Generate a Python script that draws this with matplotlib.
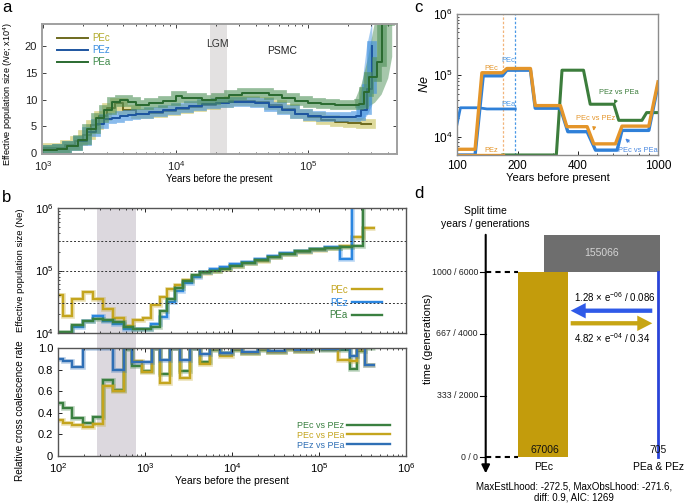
import numpy as np
import matplotlib
matplotlib.use("Agg")
import matplotlib.pyplot as plt
from matplotlib.patches import Rectangle
from matplotlib.ticker import FixedLocator, FixedFormatter, NullFormatter

plt.rcParams["font.family"] = ["Liberation Sans", "DejaVu Sans"]
plt.rcParams["mathtext.fontset"] = "custom"
plt.rcParams["mathtext.rm"] = "Liberation Sans"
plt.rcParams["mathtext.it"] = "Liberation Sans:italic"
plt.rcParams["mathtext.bf"] = "Liberation Sans:bold"
plt.rcParams["xtick.direction"] = "in"
plt.rcParams["ytick.direction"] = "in"

W, H = 685, 503

# ---------------- panel a: PSMC (log10 years, Ne in 1e4) ----------------
a_pec_t = [3.0, 3.08, 3.16, 3.24, 3.30, 3.36, 3.42, 3.48, 3.54, 3.60, 3.70, 3.80, 3.90, 4.00,
           4.10, 4.20, 4.30, 4.40, 4.50, 4.60, 4.70, 4.80, 4.90, 5.00, 5.10, 5.20, 5.30, 5.40, 5.47]
a_pec_ne = [1.0, 1.0, 1.6, 2.4, 3.5, 5.2, 7.0, 8.5, 9.3, 8.0, 7.3, 7.5, 7.8, 8.2,
            8.6, 9.0, 9.4, 9.7, 9.8, 9.6, 9.0, 8.2, 7.4, 6.7, 6.2, 5.8, 5.6, 5.5, 5.5]
a_pez_t = [3.0, 3.1, 3.18, 3.26, 3.33, 3.40, 3.46, 3.52, 3.58, 3.64, 3.70, 3.80, 3.90, 4.00, 4.10,
           4.20, 4.30, 4.40, 4.50, 4.60, 4.70, 4.80, 4.90, 5.00, 5.10, 5.20, 5.30, 5.36, 5.40, 5.44, 5.48]
a_pez_ne = [0.6, 0.8, 1.3, 2.4, 4.0, 5.5, 6.3, 6.6, 6.9, 7.1, 7.3, 7.6, 8.0, 8.4, 8.8,
            9.1, 9.4, 9.6, 9.6, 9.3, 8.7, 8.0, 7.4, 7.0, 6.8, 6.7, 6.8, 6.9, 8.0, 12.0, 20.0]
a_pea_t = [3.0, 3.1, 3.18, 3.26, 3.33, 3.40, 3.46, 3.52, 3.58, 3.64, 3.70, 3.80, 3.90, 4.00, 4.05,
           4.10, 4.20, 4.30, 4.40, 4.50, 4.60, 4.70, 4.80, 4.90, 5.00, 5.10, 5.20, 5.30, 5.38,
           5.42, 5.46, 5.52, 5.56, 5.62]
a_pea_ne = [0.6, 0.8, 1.3, 2.5, 4.5, 6.5, 8.0, 9.5, 10.0, 9.5, 9.0, 9.3, 9.8, 10.6, 10.3,
            10.2, 10.0, 10.3, 10.8, 11.2, 11.2, 10.8, 10.2, 9.7, 9.3, 9.1, 9.0, 9.0, 9.1,
            11.4, 14.2, 17.0, 24.5, 24.5]
# bootstrap spread in the old tail
a_pea_tail_t = [5.35, 5.40, 5.45, 5.50, 5.55, 5.60, 5.63]
a_pea_tail_lo = [8.5, 8.5, 8.7, 9.5, 11.0, 14.0, 18.0]
a_pea_tail_hi = [10.0, 13.0, 18.0, 24.5, 24.5, 24.5, 24.5]
a_pez_tail_t = [5.36, 5.40, 5.44, 5.48]
a_pez_tail_lo = [6.2, 6.3, 7.0, 9.0]
a_pez_tail_hi = [7.5, 12.0, 20.0, 24.5]
lgm = (18000, 24500)

# ---------------- panel b: MSMC (log10 years) ----------------
b_edges = [2.000, 2.057, 2.161, 2.287, 2.402, 2.517, 2.632, 2.759, 2.862, 2.977, 3.069, 3.172,
           3.253, 3.345, 3.437, 3.540, 3.632, 3.747, 3.862, 3.977, 4.115, 4.264, 4.414, 4.552,
           4.724, 4.897, 5.069, 5.241, 5.379, 5.506, 5.644]
b_pec = [4.61, 4.27, 4.54, 4.65, 4.54, 4.38, 4.24, 4.12, 4.21, 4.24, 4.45, 4.58, 4.70, 4.77,
         4.85, 4.92, 4.96, 5.00, 5.03, 5.07, 5.12, 5.16, 5.21, 5.26, 5.30, 5.33, 5.36, 5.39, 5.54, 5.68]
b_pez = [3.90, 3.90, 4.10, 4.20, 4.27, 4.20, 4.15, 4.07, 4.07, 4.07, 4.15, 4.25, 4.50, 4.68,
         4.80, 4.90, 4.97, 5.02, 5.06, 5.10, 5.14, 5.19, 5.24, 5.28, 5.32, 5.35, 5.37, 5.18, 6.5, 6.5]
b_pea = [4.02, 4.02, 4.13, 4.20, 4.22, 4.21, 4.17, 4.10, 4.07, 4.07, 4.10, 4.35, 4.55, 4.72,
         4.84, 4.93, 4.97, 5.00, 5.03, 5.07, 5.12, 5.17, 5.22, 5.27, 5.31, 5.34, 5.36, 5.38, 5.39, 6.5]

rcc_edges = [2.000, 2.057, 2.161, 2.287, 2.402, 2.517, 2.632, 2.759, 2.851, 2.966, 3.080, 3.172,
             3.287, 3.402, 3.517, 3.632, 3.747, 3.862, 4.000, 4.115, 4.299, 4.414, 4.609, 4.724,
             4.920, 5.034, 5.218, 5.356, 5.437, 5.529, 5.644]
rcc_pec_pez = [0.49, 0.44, 0.35, 0.31, 0.36, 0.70, 0.61, 0.99, 0.83, 0.79, 1.0, 0.76, 1.0, 0.79, 1.0,
               0.87, 0.98, 0.95, 0.98, 0.95, 0.98, 0.96, 0.99, 0.97, 1.0, 0.98, 0.98, 0.81, 0.97, 1.0]
rcc_pec_pea = [0.33, 0.31, 0.29, 0.27, 0.30, 0.65, 0.60, 1.0, 0.88, 0.78, 1.0, 0.68, 1.0, 0.72, 1.0,
               0.85, 0.99, 0.93, 0.99, 0.95, 0.99, 0.96, 0.99, 0.97, 1.0, 0.99, 0.89, 0.88, 0.98, 0.84]
rcc_pez_pea = [0.90, 0.88, 0.82, 1.0, 1.0, 1.0, 0.80, 1.0, 0.87, 0.87, 1.0, 0.89, 1.0, 0.89, 1.0,
               0.94, 1.0, 0.95, 1.0, 0.96, 1.0, 0.97, 1.0, 0.98, 1.0, 0.99, 1.0, 0.93, 1.0, 0.84]
b_band = (280, 790)

# ---------------- panel c: recent Ne (years, Ne) ----------------
c_pecpez_t = [100, 123, 133, 168, 177, 232, 245, 327, 352, 444, 479, 614, 662, 900, 1000]
c_pecpez_ne = [6200, 6200, 110000, 110000, 129000, 129000, 32000, 32000, 14500, 14500,
               7600, 7600, 14800, 14800, 78000]
c_pecpea_t = [100, 123, 135, 168, 177, 232, 245, 327, 356, 444, 489, 626, 662, 900, 1000]
c_pecpea_ne = [5000, 5000, 98000, 98000, 121000, 121000, 29000, 29000, 12000, 12000,
               6000, 6000, 12600, 12600, 69000]
c_pea_t = [100, 104, 128, 141, 195]
c_pea_ne = [15800, 29500, 29500, 28200, 28200]
c_pez_t = [100, 169]
c_pez_ne = [5000, 5000]
c_pezpea_t = [169, 312, 333, 426, 460, 603, 638, 832, 878, 1000]
c_pezpea_ne = [5000, 5000, 121000, 121000, 33700, 33700, 18400, 18400, 24600, 24600]
c_split = (169, 195)

# ---------------- panel d: demographic model ----------------
d_split_years = 1000
d_split_gen = 6000
d_gen_ticks = [0, 2000, 4000, 6000]
d_tick_labels = ["0 / 0", "333 / 2000", "667 / 4000", "1000 / 6000"]
d_ne_anc = 155066
d_ne_pec = 67006
d_ne_peaz = 705
d_mig_to_pec = "1.28 × e$^{-06}$ / 0.086"
d_mig_to_peaz = "4.82 × e$^{-04}$ / 0.34"
d_stats = "MaxEstLhood: -272.5, MaxObsLhood: -271.6,\ndiff: 0.9, AIC: 1269"

fig = plt.figure(figsize=(6.85, 5.03), dpi=100)


def box(x0, y0, x1, y1):
    return [x0 / W, 1 - y1 / H, (x1 - x0) / W, (y1 - y0) / H]


def style_spines(ax, color, lw=1.0):
    for s in ax.spines.values():
        s.set_color(color)
        s.set_linewidth(lw)


# ===== a =====
ax = fig.add_axes(box(42, 24, 397, 154))
ax.axvspan(*lgm, color="#e3e1e1", lw=0)
series_a = [
    (a_pec_t, a_pec_ne, "#c8c25a", "#6e6a1e", "PEc", "#b3ab2c"),
    (a_pez_t, a_pez_ne, "#3d8fe0", "#1d55a0", "PEz", "#3b8ee0"),
    (a_pea_t, a_pea_ne, "#4f9159", "#2a6a30", "PEa", "#3f8a4a"),
]
ax.fill_between(10 ** np.array(a_pez_tail_t), a_pez_tail_lo, a_pez_tail_hi, color="#3d8fe0", alpha=0.45, lw=0)
ax.fill_between(10 ** np.array(a_pea_tail_t), a_pea_tail_lo, a_pea_tail_hi, color="#4f9159", alpha=0.5, lw=0)
for t, ne, band, line, lab, tcol in series_a:
    x = 10 ** np.array(t)
    ax.step(x, ne, where="post", color=band, lw=7, alpha=0.6, solid_joinstyle="miter")
    ax.step(x, ne, where="post", color=line, lw=1.4, label=lab)
ax.set_xscale("log")
ax.set_xlim(10 ** 2.99, 10 ** 5.67)
ax.set_ylim(-0.1, 24)
ax.set_yticks([0, 5, 10, 15, 20])
ax.tick_params(labelsize=8, top=True, right=True, length=3, width=0.6, colors="#222222")
ax.tick_params(which="minor", top=True, length=1.5, width=0.5)
ax.set_xlabel("Years before the present", fontsize=7, labelpad=1)
ax.set_ylabel("Effective population size ($\\it{Ne}$; x10$^4$)", fontsize=6.6, labelpad=3)
ax.yaxis.set_label_coords(-0.075, 0.46)
style_spines(ax, "#a0a0a0", 1.4)
ax.text(20700, 20.3, "LGM", fontsize=7.5, ha="center", va="center", color="#333333")
ax.text(63000, 19.0, "PSMC", fontsize=7.5, ha="center", va="center", color="#222222")
leg = ax.legend(loc="upper left", bbox_to_anchor=(0.042, 0.93), frameon=False, fontsize=7,
                handlelength=3.2, handletextpad=0.4, labelspacing=0.2, borderaxespad=0, borderpad=0)
for txt, s in zip(leg.get_texts(), series_a):
    txt.set_color(s[5])

# ===== b top =====
axb = fig.add_axes(box(58, 208, 406, 333))
axb.axvspan(*b_band, ymin=-0.13, ymax=1, color="#dcd8de", lw=0, clip_on=False, zorder=0)
for v in [3e4, 1e5, 3e5]:
    axb.axhline(v, color="#333333", lw=0.7, ls=(0, (2, 2)))
edges_b = 10 ** np.array(b_edges)
for vals, col, lab in [(b_pec, "#c4a51e", "PEc"), (b_pez, "#2b86e0", "PEz"), (b_pea, "#3a8040", "PEa")]:
    axb.stairs(10 ** np.array(vals), edges_b, baseline=None, color=col, lw=3.4, alpha=0.3)
    axb.stairs(10 ** np.array(vals), edges_b, baseline=None, color=col, lw=1.7, label=lab)
axb.set_xscale("log")
axb.set_yscale("log")
axb.set_xlim(100, 1e6)
axb.set_ylim(1e4, 1e6)
axb.tick_params(labelbottom=False, labelsize=8, top=True, length=3, width=0.6)
axb.tick_params(which="minor", top=True, length=1.5, width=0.5)
axb.set_ylabel("Effective population size (Ne)", fontsize=6.8, labelpad=2)
axb.yaxis.set_label_coords(-0.095, 0.5)
style_spines(axb, "#555555", 1.0)
h, l = axb.get_legend_handles_labels()
legb = axb.legend(h, l, loc="lower right", bbox_to_anchor=(0.931, 0.10), frameon=False, fontsize=7,
                  markerfirst=False, handlelength=3.1, handletextpad=0.4, labelspacing=0.3,
                  borderaxespad=0, borderpad=0)
for txt, c in zip(legb.get_texts(), ["#c4a51e", "#2b86e0", "#3a8040"]):
    txt.set_color(c)

# ===== b bottom =====
axr = fig.add_axes(box(58, 348, 406, 456))
axr.axvspan(*b_band, color="#dcd8de", lw=0, zorder=0)
edges_r = 10 ** np.array(rcc_edges)
for vals, col, lab in [(rcc_pec_pez, "#3a8040", "PEc vs PEz"), (rcc_pec_pea, "#c4a51e", "PEc vs PEa"),
                       (rcc_pez_pea, "#2f6fb5", "PEz vs PEa")]:
    axr.stairs(vals, edges_r, baseline=None, color=col, lw=3.4, alpha=0.3)
    axr.stairs(vals, edges_r, baseline=None, color=col, lw=1.7, label=lab)
axr.set_xscale("log")
axr.set_xlim(100, 1e6)
axr.set_ylim(0, 1.0)
axr.set_yticks([0, 0.2, 0.4, 0.6, 0.8, 1.0])
axr.set_yticklabels(["0", "0.2", "0.4", "0.6", "0.8", "1.0"])
axr.tick_params(labelsize=8, top=True, length=3, width=0.6)
axr.tick_params(which="minor", top=True, length=1.5, width=0.5)
axr.set_xlabel("Years before the present", fontsize=7.5, labelpad=1)
axr.set_ylabel("Relative cross coalescence rate", fontsize=7.2, labelpad=4)
axr.yaxis.set_label_coords(-0.095, 0.42)
style_spines(axr, "#555555", 1.0)
h, l = axr.get_legend_handles_labels()
legr = axr.legend(h, l, loc="lower right", bbox_to_anchor=(0.955, 0.06), frameon=False, fontsize=6.5,
                  markerfirst=False, handlelength=4.8, handletextpad=0.3, labelspacing=0.1,
                  borderaxespad=0, borderpad=0)
for txt, c in zip(legr.get_texts(), ["#3a8040", "#c4a51e", "#2f6fb5"]):
    txt.set_color(c)

# ===== c =====
axc = fig.add_axes(box(457, 14, 658, 155))
axc.axvline(c_split[0], color="#f2b47a", lw=0.9, ls=(0, (2, 1.5)))
axc.axvline(c_split[1], color="#4a98e6", lw=0.9, ls=(0, (2, 1.5)))
axc.plot(c_pea_t, c_pea_ne, color="#2f80d8", lw=2.0)
axc.plot(c_pezpea_t, c_pezpea_ne, color="#3c7d3c", lw=2.2)
axc.plot(c_pecpea_t, c_pecpea_ne, color="#2f80d8", lw=2.4)
axc.plot(c_pecpez_t, c_pecpez_ne, color="#e4952a", lw=2.4)
axc.plot(c_pez_t, c_pez_ne, color="#e4952a", lw=2.4)
axc.set_xscale("log")
axc.set_yscale("log")
axc.set_xlim(100, 1000)
axc.set_ylim(5000, 1e6)
axc.xaxis.set_major_locator(FixedLocator([100, 200, 400, 1000]))
axc.xaxis.set_major_formatter(FixedFormatter(["100", "200", "400", "1000"]))
axc.xaxis.set_minor_formatter(NullFormatter())
axc.tick_params(labelsize=8.5, length=3, width=0.6)
axc.tick_params(which="minor", length=1.5, width=0.5)
axc.set_xlabel("Years before present", fontsize=8, labelpad=1)
axc.set_ylabel("$\\it{Ne}$", fontsize=9, labelpad=1)
style_spines(axc, "#8c8c8c", 1.0)
fs_c = 5.4
axc.text(148, 1.28e5, "PEc", color="#e4952a", fontsize=fs_c, ha="center", va="center")
axc.text(180, 1.76e5, "PEc", color="#4a98e6", fontsize=fs_c, ha="center", va="center")
axc.text(181, 3.37e4, "PEa", color="#4a98e6", fontsize=fs_c, ha="center", va="center")
axc.text(148, 6000, "PEz", color="#e4952a", fontsize=fs_c, ha="center", va="center")
axc.annotate("PEz vs PEa", xy=(606, 3.37e4), xytext=(640, 5.2e4), color="#3c7d3c", fontsize=fs_c,
             ha="center", va="center", arrowprops=dict(arrowstyle="-|>", color="#3c7d3c", lw=0.8,
                                                       mutation_scale=5, shrinkA=2, shrinkB=0))
axc.annotate("PEc vs PEz", xy=(478, 1.24e4), xytext=(488, 1.96e4), color="#e4952a", fontsize=fs_c,
             ha="center", va="center", arrowprops=dict(arrowstyle="-|>", color="#e4952a", lw=0.8,
                                                       mutation_scale=5, shrinkA=2, shrinkB=0))
axc.annotate("PEc vs PEa", xy=(688, 9300), xytext=(795, 6000), color="#4a88e0", fontsize=fs_c,
             ha="center", va="center", arrowprops=dict(arrowstyle="-|>", color="#4a88e0", lw=0.8,
                                                       mutation_scale=5, shrinkA=2, shrinkB=0))

# ===== d =====
axd = fig.add_axes(box(420, 200, 685, 503))
axd.axis("off")
px_ne = 1345.0           # Ne units per pixel (box widths scale with Ne)
px_gen = 2000 / 61.7     # generations per pixel
axd.set_xlim(-(518.3 - 420) * px_ne, (685 - 518.3) * px_ne)
axd.set_ylim(-(503 - 457.3) * px_gen, (457.3 - 200) * px_gen)
anc_h = 37.4 * px_gen
x_right = d_ne_pec + 123000
axd.add_patch(Rectangle((x_right - d_ne_anc, d_split_gen), d_ne_anc, anc_h, color="#6e6e6e", lw=0))
axd.add_patch(Rectangle((0, 0), d_ne_pec, d_split_gen, color="#c39c0c", lw=0))
x_peaz = x_right - 1.3 * px_ne
axd.plot([x_peaz, x_peaz], [0, d_split_gen], color="#2a44d8", lw=2)
axd.text(x_right - d_ne_anc / 2, d_split_gen + anc_h / 2, str(d_ne_anc), color="#d4d4d4",
         fontsize=7.5, ha="center", va="center")
axd.text(d_ne_pec / 2 + 2500, 60, str(d_ne_pec), fontsize=7.5, ha="center", va="bottom", color="#111111")
axd.text(x_peaz, 60, str(d_ne_peaz), fontsize=7.5, ha="center", va="bottom", color="#111111")
axd.text(d_ne_pec / 2, -324, "PEc", fontsize=7.5, ha="center", va="center")
axd.text(x_peaz, -324, "PEa & PEz", fontsize=7.5, ha="center", va="center")

x_axis = -32.6 * px_ne
axd.annotate("", xy=(x_axis, -519), xytext=(x_axis, anc_h + d_split_gen),
             arrowprops=dict(arrowstyle="-|>", color="black", lw=1.5, mutation_scale=12,
                             shrinkA=0, shrinkB=0))
for g, lab in zip(d_gen_ticks, d_tick_labels):
    axd.plot([x_axis - 5.7 * px_ne, x_axis], [g, g], color="black", lw=0.8)
    axd.text(x_axis - 7.7 * px_ne, g, lab, fontsize=6.3, ha="right", va="center", color="#222222")
for g in [0, d_split_gen]:
    axd.plot([x_axis, 0], [g, g], color="black", lw=1.5, ls=(0, (2.5, 2)))
axd.text(-121450, 3835, "time (generations)", rotation=90, fontsize=8, ha="center", va="center")
axd.text(x_axis, 7984, "Split time", fontsize=7.5, ha="center", va="center")
axd.text(x_axis, 7562, "years / generations", fontsize=7.5, ha="center", va="center")

arr_l, arr_r = 70470, 180200
axd.arrow(arr_r, 4752, arr_l - arr_r, 0, width=140, head_width=500, head_length=15 * px_ne,
          length_includes_head=True, color="#2f5ae8", lw=0)
axd.arrow(arr_l, 4344, arr_r - arr_l, 0, width=140, head_width=500, head_length=15 * px_ne,
          length_includes_head=True, color="#c7a514", lw=0)
axd.text(130000, 5186, d_mig_to_pec, fontsize=7, ha="center", va="center")
axd.text(126500, 3857, d_mig_to_peaz, fontsize=7, ha="center", va="center")
axd.text(74400, -1125, d_stats, fontsize=7, ha="center", va="center", linespacing=1.1)

# panel letters
for x, y, s in [(2, 0, "a"), (2, 190, "b"), (414, 0, "c"), (414, 186, "d")]:
    fig.text(x / W, 1 - y / H, s, fontsize=12, ha="left", va="top")

fig.savefig("out.png", dpi=100)
